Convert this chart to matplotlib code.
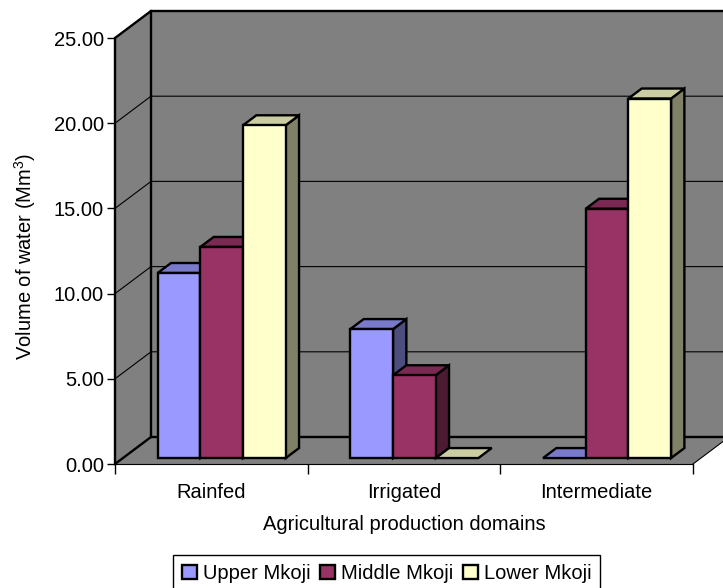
import matplotlib
matplotlib.use("Agg")
import matplotlib.pyplot as plt
from matplotlib.patches import Polygon, Patch
from matplotlib.ticker import FormatStrFormatter

plt.rcParams['font.family'] = ['Liberation Sans', 'DejaVu Sans']
plt.rcParams['mathtext.fontset'] = 'custom'
plt.rcParams['mathtext.rm'] = 'Liberation Sans'
plt.rcParams['mathtext.it'] = 'Liberation Sans:italic'

# Water volumes (Mm^3) by production domain and zone
categories = ["Rainfed", "Irrigated", "Intermediate"]
series_names = ["Upper Mkoji", "Middle Mkoji", "Lower Mkoji"]
upper = [10.86, 7.57, 0.0]
middle = [12.39, 4.86, 14.63]
lower = [19.53, 0.0, 21.10]
yticks = [0, 5, 10, 15, 20, 25]

series = [upper, middle, lower]
front_colors = ["#9999FF", "#993366", "#FFFFCC"]


def shade(hex_color, k):
    r, g, b = matplotlib.colors.to_rgb(hex_color)
    return (r * k, g * k, b * k)


W, H, DPI = 723, 588, 100
fig = plt.figure(figsize=(W / DPI, H / DPI), dpi=DPI)

# pixel geometry of the plot box
x0_px, y0_px = 115, 464
cat_px = 192.67
unit_px = 17.04
ax = fig.add_axes([x0_px / W, (H - y0_px) / H, (W - x0_px) / W, y0_px / H])
ax.set_xlim(0, (W - x0_px) / cat_px)
ax.set_ylim(0, y0_px / unit_px)
ax.set_facecolor("none")

ncat = len(categories)
ymax = yticks[-1]
DX = 36 / cat_px      # depth offset in category units
DY = 27 / unit_px     # depth offset in value units
wall = "#808080"
edge_lw = 1.7

# walls and floor
ax.add_patch(Polygon([(0, 0), (0, ymax), (DX, ymax + DY), (DX, DY)],
                     closed=True, facecolor=wall, edgecolor="none", zorder=1))
ax.add_patch(Polygon([(DX, DY), (DX, ymax + DY), (ncat + DX, ymax + DY), (ncat + DX, DY)],
                     closed=True, facecolor=wall, edgecolor="none", zorder=1))
ax.add_patch(Polygon([(0, 0), (ncat, 0), (ncat + DX, DY), (DX, DY)],
                     closed=True, facecolor=wall, edgecolor="none", zorder=1))

# gridlines across left wall and back wall
for v in yticks[1:-1]:
    ax.plot([0, DX, ncat + DX], [v, v + DY, v + DY], color="black", lw=0.8, zorder=2)

# wall edges
ax.plot([0, DX, ncat + DX + 1], [ymax, ymax + DY, ymax + DY], color="black", lw=edge_lw, zorder=2)
ax.plot([DX, DX], [DY, ymax + DY], color="black", lw=edge_lw, zorder=2)
ax.plot([0, DX, ncat + DX], [0, DY, DY], color="black", lw=edge_lw, zorder=2)
ax.plot([ncat, ncat + DX], [0, DY], color="black", lw=0.8, zorder=2)

# 3D bars
XOFF, BW = 0.1805, 0.2215
F0, F1 = 0.22, 0.59
for i in range(ncat):
    for j, vals in enumerate(series):
        v = vals[i]
        a = i + XOFF + j * BW
        b = a + BW
        fc = front_colors[j]
        kw = dict(closed=True, edgecolor="black", lw=edge_lw, joinstyle="miter", zorder=3)
        side = [(b + F0 * DX, F0 * DY), (b + F1 * DX, F1 * DY),
                (b + F1 * DX, v + F1 * DY), (b + F0 * DX, v + F0 * DY)]
        top = [(a + F0 * DX, v + F0 * DY), (b + F0 * DX, v + F0 * DY),
               (b + F1 * DX, v + F1 * DY), (a + F1 * DX, v + F1 * DY)]
        front = [(a + F0 * DX, F0 * DY), (b + F0 * DX, F0 * DY),
                 (b + F0 * DX, v + F0 * DY), (a + F0 * DX, v + F0 * DY)]
        if v > 0:
            ax.add_patch(Polygon(side, facecolor=shade(fc, 0.5), **kw))
            ax.add_patch(Polygon(top, facecolor=shade(fc, 0.8), **kw))
            ax.add_patch(Polygon(front, facecolor=fc, **kw))
        else:
            ax.add_patch(Polygon(top, facecolor=shade(fc, 0.8), **kw))

# axes styling
for s in ("top", "right"):
    ax.spines[s].set_visible(False)
ax.spines["left"].set_bounds(0, ymax)
ax.spines["left"].set_linewidth(edge_lw)
ax.spines["left"].set_zorder(4)
ax.spines["bottom"].set_bounds(0, ncat)
ax.spines["bottom"].set_linewidth(0.8)

ax.set_yticks(yticks)
ax.yaxis.set_major_formatter(FormatStrFormatter("%.2f"))
ax.tick_params(axis="y", direction="out", length=6, width=1, pad=2, labelsize=14.5)

ax.set_xticks([i + 0.5 for i in range(ncat)])
ax.set_xticklabels(categories)
ax.set_xticks(list(range(ncat + 1)), minor=True)
ax.tick_params(axis="x", which="major", length=0, pad=14, labelsize=14.5)
ax.tick_params(axis="x", which="minor", direction="out", length=7, width=1)

ax.set_xlabel("Agricultural production domains", fontsize=14.5, labelpad=9)
ax.xaxis.label.set_x((ncat / 2) / ax.get_xlim()[1])
ax.set_ylabel("Volume of water (Mm$^3$)", fontsize=14.5)
ax.yaxis.set_label_coords((38 - x0_px) / (W - x0_px), (y0_px - 256) / y0_px)

handles = [Patch(facecolor=c, edgecolor="black", lw=1.7) for c in front_colors]
fig.legend(handles, series_names, loc="upper left",
           bbox_to_anchor=(173 / W, 1 - 555 / H), ncol=3, fontsize=14.5,
           frameon=True, fancybox=False, edgecolor="black", framealpha=1,
           handlelength=0.72, handleheight=0.72, handletextpad=0.3,
           columnspacing=0.5, borderpad=0.45, borderaxespad=0)

fig.savefig("out.png", dpi=DPI)
